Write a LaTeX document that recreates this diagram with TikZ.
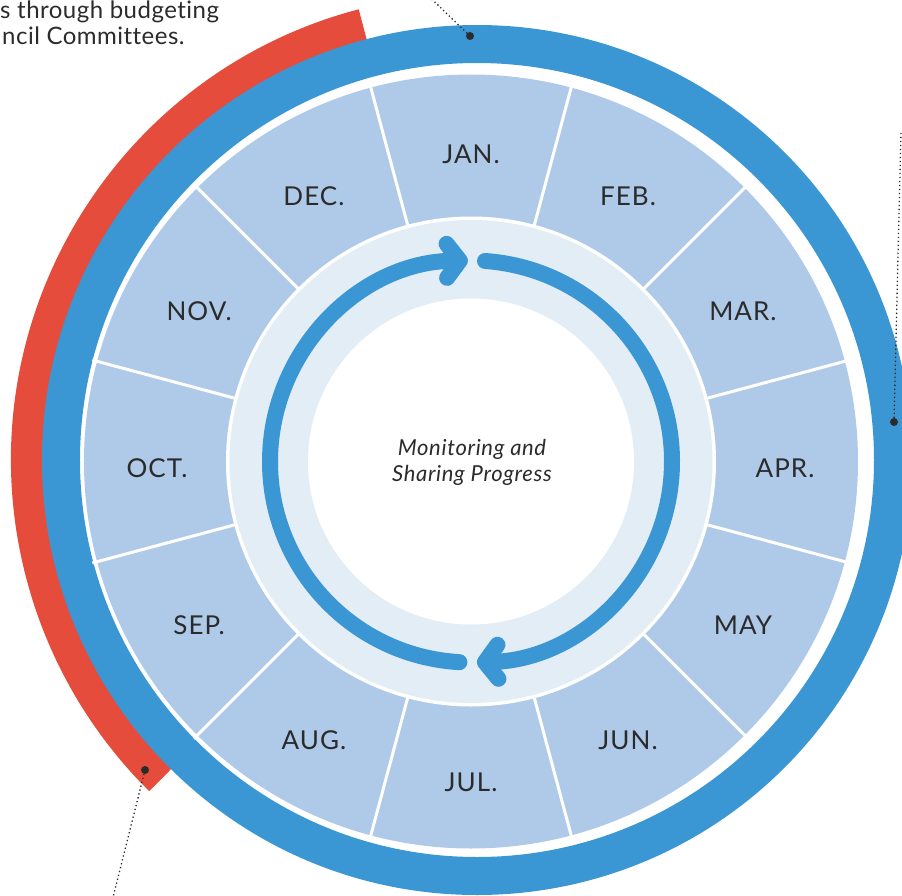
\documentclass[tikz,border=0pt]{standalone}
\usepackage{fontspec}
\setmainfont{Lato}[Ligatures=NoCommon]
\usepackage{tikz}
\usetikzlibrary{arrows.meta}
\definecolor{calblue}{HTML}{3B97D3}
\definecolor{calsky}{HTML}{AFCAE8}
\definecolor{calmist}{HTML}{E3EDF6}
\definecolor{calred}{HTML}{E64C3C}
\definecolor{calink}{HTML}{2B2B2B}

\begin{document}
\begin{tikzpicture}[x=1pt,y=1pt,
  month/.style={font=\fontsize{26}{26}\selectfont\addfontfeature{LetterSpace=4}, text=calink, inner sep=0pt},
  note/.style={font=\fontsize{24}{28}\selectfont\addfontfeature{LetterSpace=2}, text=calink, inner sep=0pt, anchor=base west},
  leader/.style={calink, line width=1.3pt, dash pattern=on 1.3pt off 2.7pt},
  turn/.style={calblue, line width=16pt, line cap=round,
    -{Straight Barb[length=13pt,width=34pt,round]}}]
  \useasboundingbox (-471,-433.5) rectangle (431,461.5);

  % outer bands sit a little off the month wheel
  \begin{scope}[shift={(6,1.5)}]
    \fill[calred] (104.7:466) arc[start angle=104.7, end angle=225.3, radius=466pt]
      -- (225.3:420) arc[start angle=225.3, end angle=104.7, radius=420pt] -- cycle;
    \fill[calblue, even odd rule] (0,0) circle[radius=435pt] (0,0) circle[radius=397pt];
  \end{scope}

  % month wheel
  \fill[calsky, even odd rule] (0,0) circle[radius=387pt] (0,0) circle[radius=244pt];
  \foreach \a in {15,45,...,345}
    \draw[white, line width=3pt] (\a:238) -- (\a:392);
  \fill[white] (0,0) circle[radius=245pt];
  \fill[calmist] (0,0) circle[radius=241.5pt];
  \fill[white] (0,0) circle[radius=163pt];

  \foreach \m [count=\i] in {JAN.,FEB.,MAR.,APR.,MAY,JUN.,JUL.,AUG.,SEP.,OCT.,NOV.,DEC.}
    \node[month, yshift=-7pt] (m\i) at ({120-30*\i}:314) {\m};

  % review loop
  \draw[turn] (266.7:201) arc[start angle=266.7, end angle=90.9, radius=201pt];
  \draw[turn] (86:201) arc[start angle=86, end angle=-88.3, radius=201pt];

  \node[font=\itshape\fontsize{22}{26}\selectfont\addfontfeature{LetterSpace=3}, text=calink, align=center] (hub) at (1,-1)
    {Monitoring and\\Sharing Progress};

  \node[note] (note1) at (-471,443) {s through budgeting};
  \node[note] (note2) at (-469,416.5) {ncil Committees.};

  % leaders
  \coordinate (topdot) at (-1,425.5);
  \coordinate (topend) at (-43,466);
  \coordinate (rightdot) at (423,39.5);
  \coordinate (rightend) at (430,329);
  \coordinate (reddot) at (-326,-308.5);
  \coordinate (redend) at (-359,-440);
  \draw[leader] (topdot) -- (topend);
  \draw[leader] (rightdot) -- (rightend);
  \draw[leader] (reddot) -- (redend);
  \fill[calink] (topdot) circle[radius=4pt];
  \fill[calink] (rightdot) circle[radius=4pt];
  \fill[calink] (reddot) circle[radius=4pt];
\end{tikzpicture}
\end{document}
